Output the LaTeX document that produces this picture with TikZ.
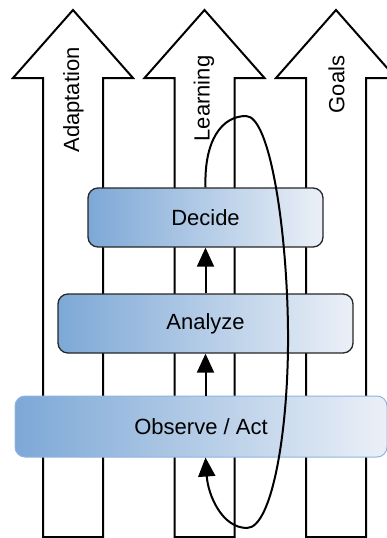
\documentclass[tikz,border=0pt]{standalone}
\usepackage{fontspec}
\setmainfont{Liberation Sans}
\usetikzlibrary{arrows.meta}

\definecolor{layerleft}{RGB}{125,168,214}
\definecolor{layerright}{RGB}{235,240,247}
\definecolor{layeredge}{RGB}{141,180,226}

\begin{document}
\begin{tikzpicture}[x=1pt,y=-1pt,font=\fontsize{22}{26}\selectfont,
    bigarrow/.style={draw,fill=white,line width=2pt},
    layer/.style={draw=black!85,line width=1.3pt,rounded corners=10pt,
      left color=layerleft,right color=layerright,minimum height=59pt,inner sep=0pt},
    flow/.style={-{Triangle[length=19pt,width=17pt]},line width=2pt}]
    \useasboundingbox (0,0) rectangle (387,538);
    \clip (0,0) rectangle (387,538);
    % the three upward arrows
    \foreach \cx in {73,204.5,336} {
      \draw [bigarrow] (\cx-30,537) -- (\cx-30,78) -- (\cx-60,78) -- (\cx,10)
        -- (\cx+60,78) -- (\cx+30,78) -- (\cx+30,537) -- cycle;
    }
    \node [rotate=90] (adapt) at (73.5,100) {Adaptation};
    \node [rotate=90] (learn) at (204,98.5) {Learning};
    \node [rotate=90] (goals) at (336.5,84.5) {Goals};
    % layers
    \node [layer,minimum width=235pt] (dec) at (205.5,217.5) {Decide};
    \node [layer,minimum width=295pt] (ana) at (205.5,323.5) {Analyze};
    \node [layer,draw=layeredge,line width=1pt,minimum width=372pt,minimum height=61pt] (obs) at (201,426.5) {Observe / Act};
    % flow between layers
    \draw [flow] (ana.north) -- (dec.south);
    \draw [flow] (obs.north -| ana.north) -- (ana.south);
    % feedback loop
    \draw [flow] (dec.north) .. controls (204,140) and (222,116) .. (246,116)
      .. controls (270,116) and (287,230) .. (288,330)
      .. controls (289,430) and (272,528) .. (247,528)
      .. controls (222,528) and (208,495) .. (obs.south -| dec.south);
  \end{tikzpicture}
\end{document}
